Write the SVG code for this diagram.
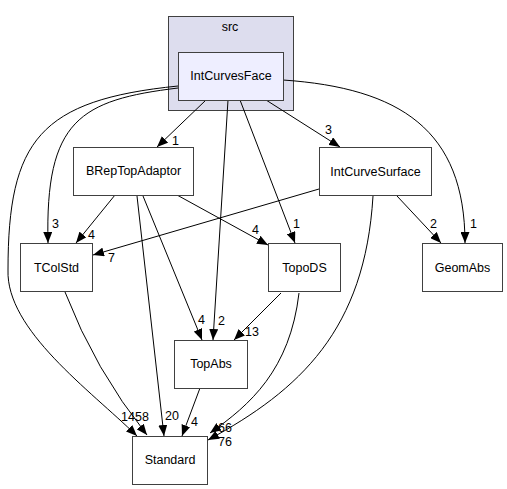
<svg xmlns="http://www.w3.org/2000/svg" width="507" height="489" viewBox="0 0 507 489">
<style>
text{font-family:"Liberation Sans",Arial,sans-serif;font-size:12.5px;fill:#000}
.n{fill:#fff;stroke:#404040;stroke-width:1}
.c{text-anchor:middle}
.e path{fill:none;stroke:#000;stroke-width:1;marker-end:url(#ah)}
</style>
<defs>
<marker id="ah" markerUnits="userSpaceOnUse" markerWidth="11" markerHeight="9" viewBox="0 0 11 9" refX="11" refY="4.5" orient="auto">
<path d="M0,0 L11,4.5 L0,9 z" fill="#000"/>
</marker>
</defs>
<rect width="507" height="489" fill="#fff"/>
<g id="cluster_src">
<rect x="168.5" y="16.5" width="125" height="94" fill="#ddddee" stroke="#404040"/>
<text class="c" x="230" y="31">src</text>
</g>
<g class="e" id="edges">
<path d="M206,100 L157,147"/>
<path d="M266,100 L340,147"/>
<path d="M228,100 L213,340"/>
<path d="M240,100 L295,243"/>
<path d="M283,80 C400,88 465,130 465,243"/>
<path d="M178,88 C80,100 45,120 48,243"/>
<path d="M178,86 C40,100 8,140 8,270 C6,330 90,390 137,436"/>
<path d="M115,195 L76,243"/>
<path d="M177,195 L268,245"/>
<path d="M143,196 L202,340"/>
<path d="M137,196 L164,436"/>
<path d="M319,189 L93,255"/>
<path d="M397,196 L441,243"/>
<path d="M373,196 C365,330 300,390 208,440"/>
<path d="M65,292 Q95,370 147,435"/>
<path d="M281,293 L234,340"/>
<path d="M299,293 C290,370 250,405 210,433"/>
<path d="M200,388 L182,436"/>
</g>
<g id="edge_labels">
<text x="172" y="145">1</text>
<text x="325" y="134">3</text>
<text x="218" y="325">2</text>
<text x="293" y="228">1</text>
<text x="470" y="228">1</text>
<text x="52" y="228">3</text>
<text x="121" y="421">14</text>
<text x="88" y="239">4</text>
<text x="252" y="234">4</text>
<text x="198" y="324">4</text>
<text x="165" y="420">20</text>
<text x="108" y="262">7</text>
<text x="430" y="228">2</text>
<text x="218" y="446">76</text>
<text x="135" y="421">58</text>
<text x="245" y="336">13</text>
<text x="218" y="432">66</text>
<text x="191" y="426">4</text>
</g>
<g id="IntCurvesFace">
<rect x="178.5" y="52.5" width="105" height="48" fill="#eeeeff" stroke="#404040"/>
<text class="c" x="231" y="80">IntCurvesFace</text>
</g>
<g id="BRepTopAdaptor">
<rect class="n" x="73.5" y="147.5" width="120" height="48"/>
<text class="c" x="133.5" y="175">BRepTopAdaptor</text>
</g>
<g id="IntCurveSurface">
<rect class="n" x="319.5" y="147.5" width="112" height="48"/>
<text class="c" x="375.5" y="176">IntCurveSurface</text>
</g>
<g id="TColStd">
<rect class="n" x="20.5" y="243.5" width="72" height="48"/>
<text class="c" x="56.5" y="272">TColStd</text>
</g>
<g id="TopoDS">
<rect class="n" x="268.5" y="243.5" width="72" height="48"/>
<text class="c" x="304.5" y="272">TopoDS</text>
</g>
<g id="GeomAbs">
<rect class="n" x="422.5" y="243.5" width="80" height="48"/>
<text class="c" x="462.5" y="272">GeomAbs</text>
</g>
<g id="TopAbs">
<rect class="n" x="174.5" y="340.5" width="73" height="48"/>
<text class="c" x="211" y="368">TopAbs</text>
</g>
<g id="Standard">
<rect class="n" x="132.5" y="436.5" width="75" height="48"/>
<text class="c" x="170" y="464">Standard</text>
</g>
</svg>
